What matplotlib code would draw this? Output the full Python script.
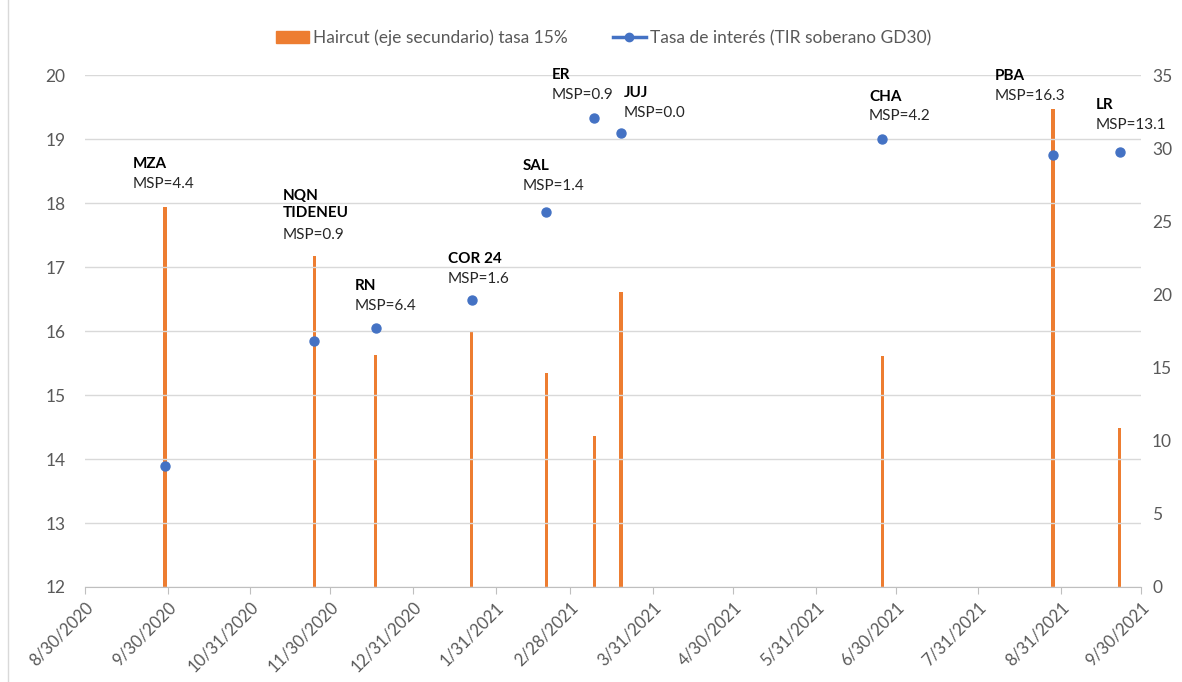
import numpy as np
import pandas as pd
import matplotlib
matplotlib.use("Agg")
import matplotlib.pyplot as plt
from matplotlib.patches import Patch
from matplotlib.lines import Line2D

plt.rcParams['font.family'] = ['Lato', 'DejaVu Sans']

# datos
names = ["MZA", "NQN\nTIDENEU", "RN", "COR 24", "SAL", "ER", "JUJ", "CHA", "PBA", "LR"]
msp = ["4.4", "0.9", "6.4", "1.6", "1.4", "0.9", "0.0", "4.2", "16.3", "13.1"]
dates = pd.to_datetime(["2020-09-29", "2020-11-24", "2020-12-17", "2021-01-22", "2021-02-19",
                        "2021-03-09", "2021-03-19", "2021-06-25", "2021-08-28", "2021-09-22"])
tasa = [13.89, 15.84, 16.05, 16.48, 17.86, 19.33, 19.09, 19.0, 18.75, 18.79]
haircut = [26.0, 22.6, 15.85, 17.52, 14.6, 10.3, 20.2, 15.8, 32.7, 10.9]

# posicion de las etiquetas (esquina sup. izq., eje primario)
lab_dates = pd.to_datetime(["2020-09-17", "2020-11-12", "2020-12-09", "2021-01-13", "2021-02-10",
                            "2021-02-21", "2021-03-20", "2021-06-20", "2021-08-06", "2021-09-13"])
lab_y = [18.72, 18.22, 16.81, 17.23, 18.69, 20.11, 19.83, 19.77, 20.09, 19.64]

tick_dates = pd.to_datetime(["2020-08-30", "2020-09-30", "2020-10-31", "2020-11-30", "2020-12-31",
                             "2021-01-31", "2021-02-28", "2021-03-31", "2021-04-30", "2021-05-31",
                             "2021-06-30", "2021-07-31", "2021-08-31", "2021-09-30"])

orange = '#ED7D31'
blue = '#4472C4'
gray = '#595959'

fig = plt.figure(figsize=(11.82, 6.82), dpi=100)
ax = fig.add_axes([0.0719, 0.1393, 0.8934, 0.7507])
ax2 = ax.twinx()
ax.set_zorder(ax2.get_zorder() + 1)
ax.patch.set_visible(False)

ax2.bar(dates, haircut, width=1.3, color=orange, zorder=2)
ax.scatter(dates, tasa, s=42, color=blue, zorder=3)

ax.set_ylim(12, 20)
ax.set_yticks(np.arange(12, 21, 1))
ax2.set_ylim(0, 35)
ax2.set_yticks(np.arange(0, 36, 5))
ax.set_xlim(tick_dates[0], tick_dates[-1])
ax.set_xticks(tick_dates)
ax.set_xticklabels([f"{d.month}/{d.day}/{d.year}" for d in tick_dates],
                   rotation=45, ha='right', rotation_mode='anchor')

ax.grid(axis='y', color='#D9D9D9', linewidth=1, zorder=0)
for a in (ax, ax2):
    for s in a.spines.values():
        s.set_visible(False)
ax.spines['bottom'].set_visible(True)
ax.spines['bottom'].set_color('#BFBFBF')
ax.tick_params(axis='x', colors='#BFBFBF', length=5, labelcolor=gray, labelsize=12)
ax.tick_params(axis='y', length=0, labelcolor=gray, labelsize=12.5, pad=14)
ax2.tick_params(axis='y', length=0, labelcolor=gray, labelsize=12.5, pad=8)

for d, y, n, m in zip(lab_dates, lab_y, names, msp):
    ax.text(d, y, n, fontsize=11, fontweight='bold', color='black', va='top', ha='left',
            linespacing=1.25, zorder=4, clip_on=False)
    nl = n.count("\n") + 1
    ax.annotate("MSP=" + m, xy=(d, y), xytext=(0, -14.2 * nl), textcoords='offset points',
                fontsize=11, color='#262626', va='top', ha='left', zorder=4,
                annotation_clip=False)

handles = [Patch(color=orange),
           Line2D([0], [0], color=blue, linewidth=2.5, marker='o', markersize=6)]
fig.legend(handles, ["Haircut (eje secundario) tasa 15%", "Tasa de interés (TIR soberano GD30)"],
           loc='center', bbox_to_anchor=(0.5106, 0.944), ncol=2, frameon=False,
           fontsize=12.5, labelcolor=gray, handlelength=1.9, handletextpad=0.25,
           columnspacing=2.6)

# borde izquierdo del area del grafico
fig.add_artist(Line2D([0.007, 0.007], [0, 1], transform=fig.transFigure,
                      color='#D9D9D9', linewidth=1))

fig.savefig("out.png", dpi=100)
